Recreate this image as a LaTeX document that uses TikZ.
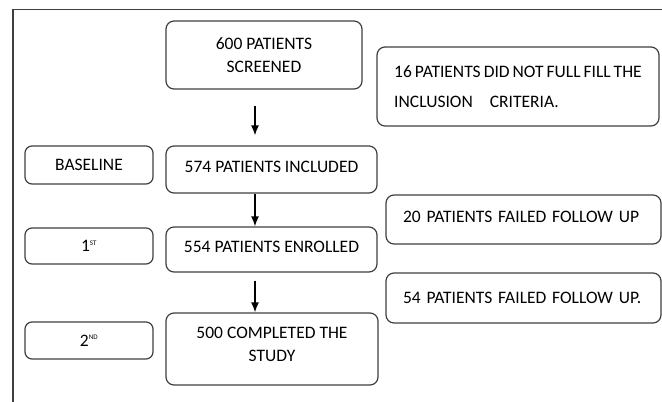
\documentclass[tikz,border=0pt]{standalone}
\usepackage{fontspec}
\setmainfont{Carlito}
\usetikzlibrary{arrows.meta}
\definecolor{boxline}{HTML}{3F3F3F}
\tikzset{
	stage/.style={draw=boxline,line width=1.2pt,rounded corners=8pt,align=center,font=\fontsize{17.5}{23}\selectfont,inner sep=0pt},
	visit/.style={stage,rounded corners=7pt,minimum width=128pt},
	dropout/.style={stage,align=left,inner xsep=17pt,text width=241pt},
	lifted/.style={text depth=6pt},
	flow/.style={-{Latex[length=10pt,width=8pt]},line width=1.5pt}
}
\newcommand{\supst}[1]{\textsuperscript{\fontsize{7}{7}\selectfont #1}}

\begin{document}
\begin{tikzpicture}[x=1pt,y=-1pt]
	\useasboundingbox (0,0) rectangle (662,402);
	\draw[boxline,line width=1.2pt] (13,402)--(13,9.5)--(662,9.5);
	\node[stage,minimum width=196pt,minimum height=68pt] (screened) at (264,55) {600 PATIENTS\\SCREENED};
	\node[stage,minimum width=282pt,minimum height=79pt,align=left,font=\fontsize{17.5}{30}\selectfont] (criteria) at (518,86.5) {{\spaceskip=3pt 16 PATIENTS DID NOT FULL FILL THE}\\INCLUSION\hspace{17pt}CRITERIA.};
	\node[visit,minimum height=38pt] (baseline) at (89,165) {BASELINE};
	\node[stage,lifted,minimum width=211pt,minimum height=47pt] (included) at (271.5,169.5) {574 PATIENTS INCLUDED};
	\node[dropout,lifted,minimum height=49pt] (failed20) at (523.5,219.5) {20 PATIENTS FAILED FOLLOW UP};
	\node[visit,minimum height=36pt] (first) at (89,246) {1\supst{ST}};
	\node[stage,lifted,minimum width=211pt,minimum height=45pt] (enrolled) at (271.5,249.5) {554 PATIENTS ENROLLED};
	\node[dropout,minimum height=50pt] (failed54) at (523.5,298) {54 PATIENTS FAILED FOLLOW UP.};
	\node[visit,minimum height=37pt] (second) at (89,340.5) {2\supst{ND}};
	\node[stage,text depth=9pt,minimum width=212pt,minimum height=72pt] (completed) at (272,349) {500 COMPLETED THE\\STUDY};
	\coordinate (spine) at (255,0);
	\draw[flow,shorten <=16pt,shorten >=10pt] (screened.south -| spine) -- (included.north -| spine);
	\draw[flow] (included.south -| spine) -- (enrolled.north -| spine);
	\draw[flow,shorten <=8pt] (enrolled.south -| spine) -- (completed.north -| spine);
\end{tikzpicture}
\end{document}
